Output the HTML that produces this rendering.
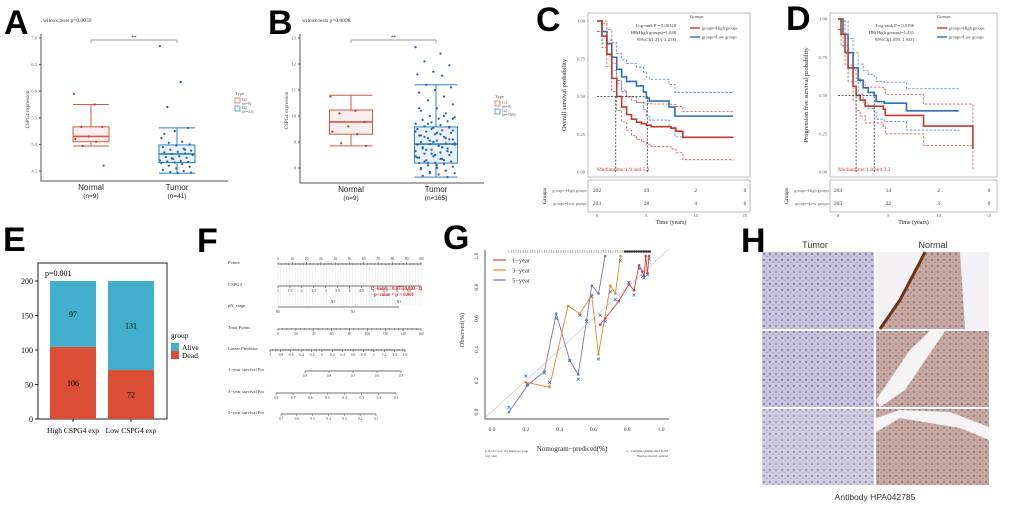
<!DOCTYPE html>
<html><head><meta charset="utf-8"><style>
html,body{margin:0;padding:0;background:#fff;}
svg{display:block;font-family:"Liberation Serif",serif;}
.ax{stroke:#555;stroke-width:1;fill:none;}
</style></head><body>
<svg id="fig" width="1020" height="505" viewBox="0 0 1020 505" xmlns="http://www.w3.org/2000/svg">
<defs>
<pattern id="tumorTex" width="6" height="6" patternUnits="userSpaceOnUse"><rect width="6" height="6" fill="#c9c5dc"/><circle cx="2" cy="2" r="1.2" fill="#8e87b8"/><circle cx="5" cy="4.5" r="0.9" fill="#a49fc6"/></pattern>
<pattern id="normTex" width="6" height="6" patternUnits="userSpaceOnUse"><rect width="6" height="6" fill="#c7aba3"/><circle cx="2" cy="2" r="1.2" fill="#9a7a8e"/><circle cx="5" cy="4.5" r="0.9" fill="#b48a78"/></pattern>
</defs>
<g font-family="Liberation Sans,sans-serif" font-weight="bold" font-size="34" fill="#000">
<text x="4" y="34">A</text><text x="268" y="34">B</text><text x="536" y="31">C</text><text x="786" y="30">D</text>
<text x="3" y="251">E</text><text x="197" y="252">F</text><text x="443" y="249">G</text><text x="741" y="252">H</text>
</g>
<g id="gA"></g>
<g id="gB"></g>
<g id="gC"></g>
<g id="gD"></g>
<g id="gE"></g>
<g id="gF"></g>
<g id="gG"></g>
<g id="gH">
<text x="815" y="248" font-family="Liberation Sans,sans-serif" font-size="9" text-anchor="middle" fill="#333">Tumor</text>
<text x="933" y="248" font-family="Liberation Sans,sans-serif" font-size="9" text-anchor="middle" fill="#333">Normal</text>
<rect x="762" y="252" width="112" height="77" fill="url(#tumorTex)"/>
<rect x="762" y="331" width="112" height="76" fill="url(#tumorTex)"/>
<rect x="762" y="409" width="112" height="76" fill="url(#tumorTex)" opacity="0.85"/>
<rect x="876" y="252" width="113" height="77" fill="#f3f1f6"/>
<path d="M880 329 L900 300 L920 262 L925 252 L960 252 L965 329 Z" fill="url(#normTex)"/>
<path d="M880 329 L900 300 L920 262 L925 252" stroke="#6b3416" stroke-width="3" fill="none"/>
<rect x="876" y="331" width="113" height="76" fill="url(#normTex)"/>
<path d="M876 400 L910 350 L930 331 L945 331 L905 390 L880 407 Z" fill="#f5f3f3"/>
<rect x="876" y="409" width="113" height="76" fill="url(#normTex)"/>
<path d="M876 432 L900 418 L960 428 L989 440 L989 427 L950 412 L900 410 L876 418 Z" fill="#f5f3f3"/>
<text x="875" y="500" font-family="Liberation Sans,sans-serif" font-size="8.5" text-anchor="middle" fill="#333">Antibody HPA042785</text>
</g>
</svg>
<script>
const NS="http://www.w3.org/2000/svg";
function mk(parent,tag,attrs,txt){const e=document.createElementNS(NS,tag);for(const k in attrs)e.setAttribute(k,attrs[k]);if(txt!==undefined)e.textContent=txt;parent.appendChild(e);return e;}
function lin(d0,d1,r0,r1){return v=>r0+(v-d0)*(r1-r0)/(d1-d0);}

// ---------- Panel A/B data ----------
const aGroups=["Normal\n(n=9)","Tumor\n(n=41)"];
const aStats=[[4.97,5.05,5.15,5.33,5.75],[4.46,4.66,4.82,4.99,5.31]];
const aPointsNormal=[5.95,5.75,5.33,5.33,5.15,5.1,5.05,4.97,4.6];
const aPointsTumor=[6.85,6.17,5.7,5.31,5.25,5.12,5.05,5.03,5.0,4.98,4.95,4.92,4.9,4.88,4.86,4.85,4.83,4.82,4.8,4.78,4.76,4.75,4.72,4.7,4.69,4.68,4.67,4.66,4.65,4.63,4.6,4.58,4.55,4.52,4.5,4.48,4.47,4.46,5.2,4.9,4.74];
const aTicks=[4.5,5.0,5.5,6.0,6.5,7.0];
const bGroups=["Normal\n(n=9)","Tumor\n(n=165)"];
const bStats=[[8.85,9.3,9.77,10.23,10.8],[7.65,8.19,8.92,9.58,11.2]];
const bPointsNormal=[10.75,10.2,10.1,9.77,9.6,9.4,9.3,8.95,8.85];
const bTicks=[8,9,10,11,12,13];
const bTumorPoints=[12.65,12.4,12.1,11.95,11.7,11.6,11.55,11.2,11.1,11.0,10.9,10.75,10.6,10.45,10.3,10.2,10.1,10.0,9.95,9.9,9.85,9.8,9.75,9.7,9.65,9.6,9.58,9.55,9.5,9.45,9.4,9.35,9.3,9.25,9.2,9.15,9.1,9.05,9.0,8.95,8.92,8.9,8.85,8.8,8.75,8.7,8.65,8.6,8.55,8.5,8.45,8.4,8.35,8.3,8.25,8.2,8.19,8.15,8.1,8.05,8.0,7.95,7.9,7.85,7.8,7.75,7.7,7.65,
9.5,9.4,9.3,9.2,9.1,9.0,8.9,8.8,8.7,8.6,8.5,8.4,8.3,8.2,9.45,9.35,9.25,9.15,9.05,8.95,8.85,8.75,8.65,8.55,8.45,8.35,8.25,9.55,9.0,8.9,8.8,8.7,8.6,8.5,10.3,10.0,9.7,9.9,8.1,8.0,7.9,7.8];
function boxPanel(g,cfg){
  const y=lin(cfg.ymin,cfg.ymax,cfg.y0,cfg.y1);
  mk(g,"text",{x:cfg.ax+2,y:22,"font-size":5.5,fill:"#333"},cfg.title);
  mk(g,"path",{d:`M${cfg.ax} ${cfg.y1-4} V${cfg.base} H${cfg.axEnd}`,class:"ax"});
  cfg.ticks.forEach(t=>{const ty=y(t);mk(g,"line",{x1:cfg.ax-2,x2:cfg.ax,y1:ty,y2:ty,stroke:"#555"});
    const tl=mk(g,"text",{x:cfg.ax-4,y:ty+1.5,"font-size":4.5,"text-anchor":"end",fill:"#555"},t.toFixed(cfg.dec));
    
    });
  mk(g,"text",{transform:`translate(${cfg.ax-12},${(cfg.y1+cfg.base)/2}) rotate(-90)`,"font-size":5,"text-anchor":"middle",fill:"#333"},"CSPG4 expression");
  const cols=["#d05a4a","#2f7fc1"],fills=["#fbeeec","#eaf3fb"];
  cfg.stats.forEach((s,i)=>{
    const cx=cfg.cx[i],w=cfg.bw,c=cols[i];
    const bx=mk(g,"g",{});
    
    
    mk(bx,"line",{x1:cx,x2:cx,y1:y(s[0]),y2:y(s[4]),stroke:c,"stroke-width":1});
    mk(bx,"line",{x1:cx-w/2,x2:cx+w/2,y1:y(s[0]),y2:y(s[0]),stroke:c});
    mk(bx,"line",{x1:cx-w/2,x2:cx+w/2,y1:y(s[4]),y2:y(s[4]),stroke:c});
    mk(bx,"rect",{x:cx-w/2,y:y(s[3]),width:w,height:y(s[1])-y(s[3]),fill:fills[i],stroke:c,"stroke-width":1});
    mk(bx,"line",{x1:cx-w/2,x2:cx+w/2,y1:y(s[2]),y2:y(s[2]),stroke:c,"stroke-width":1.6});
    const pts=cfg.pts[i];
    pts.forEach((v,k)=>{const jx=cx+(((k*37)%23)/23-0.5)*w*0.95;
      const p=mk(bx,"circle",{cx:jx,cy:y(v),r:1.1,fill:i?"#1f5fa8":"#c0392b"});
      
      });
    const lines=cfg.groups[i].split("\n");
    mk(g,"text",{x:cx,y:cfg.base+9,"font-size":8,"text-anchor":"middle","font-family":"Liberation Sans,sans-serif",fill:"#222"},lines[0]);
    mk(g,"text",{x:cx,y:cfg.base+17,"font-size":6.5,"text-anchor":"middle","font-family":"Liberation Sans,sans-serif",fill:"#222"},lines[1]);
  });
  const bt=y(cfg.ymax)+2;
  mk(g,"path",{d:`M${cfg.cx[0]} ${bt+3} V${bt} H${cfg.cx[1]} V${bt+3}`,stroke:"#777",fill:"none","stroke-width":0.7});
  mk(g,"text",{x:(cfg.cx[0]+cfg.cx[1])/2,y:bt-1,"font-size":5,"text-anchor":"middle"},"**");
  const lg=mk(g,"g",{});
  
  
  mk(lg,"text",{x:cfg.lx,y:cfg.ly,"font-size":4.5,fill:"#555"},"Type");
  [0,1].forEach(i=>{mk(lg,"rect",{x:cfg.lx,y:cfg.ly+3+i*8,width:5,height:5,fill:"none",stroke:cols[i],"stroke-width":0.7});
    mk(lg,"text",{x:cfg.lx+7,y:cfg.ly+6+i*8,"font-size":4.2,fill:"#555"},i?"G2":"G1");
    mk(lg,"text",{x:cfg.lx+7,y:cfg.ly+10+i*8,"font-size":4.2,fill:"#555"},cfg.legn[i]);});
}
boxPanel(document.getElementById("gA"),{title:"wilcox.tests p=0.0059",ax:41,axEnd:228,y0:171,y1:38,ymin:4.5,ymax:7.0,base:181,ticks:aTicks,dec:1,stats:aStats,pts:[aPointsNormal,aPointsTumor],cx:[91,177],bw:36,groups:aGroups,lx:235,ly:95,legn:["(n=9)","(n=41)"]});
boxPanel(document.getElementById("gB"),{title:"wilcox.tests p=0.0098",ax:300,axEnd:484,y0:168,y1:38,ymin:8,ymax:13,base:183,ticks:bTicks,dec:0,stats:bStats,pts:[bPointsNormal,bTumorPoints],cx:[351,436],bw:43,groups:bGroups,lx:495,ly:98,legn:["(n=9)","(n=165)"]});

// ---------- KM data ----------
const cHighT=[0,0.5,1,1.5,2,2.5,3,3.5,4,4.5,5,5.5,7.5,8,8.7,13.8];
const cHighS=[1,0.9,0.78,0.62,0.5,0.43,0.38,0.35,0.33,0.32,0.31,0.30,0.29,0.27,0.23,0.23];
const cLowT=[0,0.5,1,1.5,2,2.5,3,4,4.7,5,5.3,7.3,7.9,13.8];
const cLowS=[1,0.93,0.85,0.76,0.68,0.63,0.6,0.57,0.53,0.49,0.47,0.43,0.37,0.37];
const dHighT=[0,0.3,0.7,1,1.5,1.8,2.2,2.7,4.5,4.7,8.5,13.4];
const dHighS=[1,0.9,0.78,0.68,0.56,0.5,0.47,0.43,0.41,0.37,0.3,0.15];
const dLowT=[0,0.5,1,1.5,2,2.5,3,3.6,3.8,4.6,6.8,12];
const dLowS=[1,0.9,0.78,0.68,0.6,0.55,0.52,0.5,0.46,0.45,0.40,0.40];
const kmTicksX=[0,5,10,15];
const kmTicksY=[0,0.25,0.5,0.75,1.0];
const cRisk=[[202,19,2,0],[203,28,4,0]];
const dRisk=[[203,14,2,0],[203,22,3,0]];

function steps(T,S,x,y,dy){let d=`M${x(T[0])} ${y(Math.min(1,S[0]+dy))}`;for(let i=1;i<T.length;i++){d+=` H${x(T[i])} V${y(Math.max(0,Math.min(1,S[i]+dy*(1+i*0.08))))}`;}return d;}
function km(g,c){
  const x=lin(0,15,c.x0,c.x15),y=lin(0,1,c.y0,c.y1);
  mk(g,"rect",{x:c.bx0,y:13,width:c.bx1-c.bx0,height:164,fill:"#fff",stroke:"#aaa","stroke-width":0.8});
  kmTicksY.forEach(t=>{mk(g,"text",{x:c.bx0-3,y:y(t)+1.5,"font-size":4.5,"text-anchor":"end",fill:"#555"},t.toFixed(2));});
  mk(g,"text",{transform:`translate(${c.bx0-22},95) rotate(-90)`,"font-size":6.5,"text-anchor":"middle",fill:"#222"},c.ylab);
  const series=[[c.lowT,c.lowS,"#2b6fb6"],[c.highT,c.highS,"#c0392b"]];
  series.forEach(([T,S,col])=>{
    mk(g,"path",{d:steps(T,S,x,y,0.08),stroke:col,fill:"none","stroke-width":0.8,"stroke-dasharray":"2.5,1.5",opacity:0.8});
    mk(g,"path",{d:steps(T,S,x,y,-0.07),stroke:col,fill:"none","stroke-width":0.8,"stroke-dasharray":"2.5,1.5",opacity:0.8});
    const p=mk(g,"path",{d:steps(T,S,x,y,0),stroke:col,fill:"none","stroke-width":1.6});
    
    
  });
  c.med.forEach(m=>mk(g,"path",{d:`M${x(m)} ${y(0)} V${y(0.5)}`,stroke:"#333","stroke-dasharray":"2,1.5","stroke-width":0.8}));
  mk(g,"path",{d:`M${x(0)} ${y(0.5)} H${x(Math.max(...c.med))}`,stroke:"#333","stroke-dasharray":"2,1.5","stroke-width":0.8});
  mk(g,"text",{x:x(0),y:y(0)-1,"font-size":5.5,fill:"#e03a3a"},c.medTxt);
  c.stat.forEach((s,i)=>mk(g,"text",{x:c.sx,y:27+i*7,"font-size":4.6,"text-anchor":"end",fill:"#333"},s));
  mk(g,"text",{x:c.lx,y:18,"font-size":4.6,fill:"#333"},"Groups");
  mk(g,"line",{x1:c.lx,x2:c.lx+10,y1:28,y2:28,stroke:"#c0392b","stroke-width":1.4});
  mk(g,"text",{x:c.lx+12,y:29.5,"font-size":4.3,fill:"#333"},"groups=High groups");
  mk(g,"line",{x1:c.lx,x2:c.lx+10,y1:37,y2:37,stroke:"#2b6fb6","stroke-width":1.4});
  mk(g,"text",{x:c.lx+12,y:38.5,"font-size":4.3,fill:"#333"},"groups=Low groups");
  mk(g,"rect",{x:c.bx0,y:180,width:c.bx1-c.bx0,height:32,fill:"#fff",stroke:"#aaa","stroke-width":0.8});
  ["groups=High groups","groups=Low groups"].forEach((n,r)=>{
    mk(g,"text",{x:c.bx0-1,y:192+r*13,"font-size":4.2,"text-anchor":"end",fill:"#666"},n);
    c.risk[r].forEach((v,k)=>mk(g,"text",{x:x(kmTicksX[k]),y:192+r*13,"font-size":5.5,"text-anchor":"middle",fill:"#333"},v));
  });
  mk(g,"text",{transform:`translate(${c.bx0-42},196) rotate(-90)`,"font-size":5.5,"text-anchor":"middle",fill:"#222"},"Groups");
  kmTicksX.forEach(t=>mk(g,"text",{x:x(t),y:217,"font-size":4.6,"text-anchor":"middle",fill:"#555"},t));
  mk(g,"text",{x:(c.x0+c.x15)/2,y:224,"font-size":6,"text-anchor":"middle",fill:"#222"},"Time (years)");
}
km(document.getElementById("gC"),{x0:597,x15:745,y0:172,y1:21,bx0:588,bx1:750,highT:cHighT,highS:cHighS,lowT:cLowT,lowS:cLowS,med:[1.9,5.1],medTxt:"Mediantime:1.9 and 5.1",stat:["Log-rank P = 0.00128","HR(High groups)=1.638","95%CI(1.213, 2.213)"],sx:676,lx:690,risk:cRisk,ylab:"Overall survival probability"});
km(document.getElementById("gD"),{x0:838,x15:989,y0:172,y1:19,bx0:830,bx1:997,highT:dHighT,highS:dHighS,lowT:dLowT,lowS:dLowS,med:[1.8,3.6],medTxt:"Mediantime:1.8 and 3.2",stat:["Log-rank P = 0.0196","HR(High groups)=1.431","95%CI(1.059, 1.933)"],sx:914,lx:937,risk:dRisk,ylab:"Progression free survival probability"});

// ---------- Panel E ----------
const eCats=["High CSPG4 exp","Low CSPG4 exp"];
const eDead=[106,72];
const eAlive=[97,131];
const eTicks=[0,50,100,150,200];
(function(){
  const g=document.getElementById("gE");const y=lin(0,200,419,281);const cx=[73,131],bw=46;
  mk(g,"rect",{x:38,y:263,width:129,height:156,fill:"none",stroke:"#222","stroke-width":1});
  eTicks.forEach(t=>{mk(g,"line",{x1:35,x2:38,y1:y(t),y2:y(t),stroke:"#222"});mk(g,"text",{x:33,y:y(t)+3,"font-size":8,"text-anchor":"end"},t);});
  mk(g,"text",{x:45,y:276,"font-size":8},"p=0.001");
  eCats.forEach((c,i)=>{
    const split=eDead[i]*200/(eDead[i]+eAlive[i]);
    const d=mk(g,"rect",{x:cx[i]-bw/2,y:y(split),width:bw,height:419-y(split),fill:"#dc4d35"});
    
    
    const a=mk(g,"rect",{x:cx[i]-bw/2,y:y(200),width:bw,height:y(split)-y(200),fill:"#42b0cc"});
    
    
    mk(g,"text",{x:cx[i],y:y(split/2)+3,"font-size":8,"text-anchor":"middle"},eDead[i]);
    mk(g,"text",{x:cx[i],y:y((200+split)/2)+3,"font-size":8,"text-anchor":"middle"},eAlive[i]);
    mk(g,"line",{x1:cx[i],x2:cx[i],y1:419,y2:422,stroke:"#222"});
    mk(g,"text",{x:cx[i],y:433,"font-size":7.5,"text-anchor":"middle"},c);
  });
  mk(g,"text",{x:171,y:338,"font-size":7.5},"group");
  mk(g,"rect",{x:171,y:343,width:8,height:8,fill:"#42b0cc"});mk(g,"text",{x:182,y:350,"font-size":7.5},"Alive");
  mk(g,"rect",{x:171,y:351,width:8,height:8,fill:"#dc4d35"});mk(g,"text",{x:182,y:358,"font-size":7.5},"Dead");
})();

// ---------- Panel F ----------
const fRows=["Points","CSPG4","pN_stage","Total Points","Linear Predictor","1−year survival Pro","3−year survival Pro","5−year survival Pro"];
const fPointsTicks=[0,10,20,30,40,50,60,70,80,90,100];
const fCspgTicks=["1","1.5","2","2.5","3","3.5","4","4.5","5","5.5","6","6.5","7"];
const fTotalTicks=[0,20,40,60,80,100,120,140,160];
const fLpTicks=["-1","-0.8","-0.6","-0.4","-0.2","0","0.2","0.4","0.6","0.8","1","1.2","1.4","1.6"];
const f1yTicks=["0.9","0.8","0.7","0.6","0.5"];
const f3yTicks=["0.8","0.7","0.6","0.5","0.4","0.3","0.2","0.1"];
const f5yTicks=["0.7","0.6","0.5","0.4","0.3","0.2","0.1"];
(function(){
  const g=document.getElementById("gF");
  const rowY=[264,286,307,329,350,371,393,414];
  fRows.forEach((r,i)=>mk(g,"text",{x:228,y:rowY[i],"font-size":4.6,fill:"#333"},r));
  for(let k=0;k<=50;k++){const xx=278+k*143/50;mk(g,"line",{x1:xx,x2:xx,y1:264,y2:306,stroke:"#ddd","stroke-width":0.4});}
  function scale(y,x0,x1,labels,above,minor){
    mk(g,"line",{x1:x0,x2:x1,y1:y,y2:y,stroke:"#444","stroke-width":0.7});
    const n=labels.length-1;
    labels.forEach((l,k)=>{const xx=x0+k*(x1-x0)/n;mk(g,"line",{x1:xx,x2:xx,y1:y-(above?2:0),y2:y+(above?0:2),stroke:"#444","stroke-width":0.5});
      mk(g,"text",{x:xx,y:above?y-4:y+6,"font-size":3.6,"text-anchor":"middle",fill:"#444"},l);});
    if(minor){for(let k=0;k<=n*4;k++){const xx=x0+k*(x1-x0)/(n*4);mk(g,"line",{x1:xx,x2:xx,y1:y-1,y2:y+1,stroke:"#444","stroke-width":0.4});}}
  }
  scale(264,278,421,fPointsTicks,true,true);
  scale(286,278,421,fCspgTicks,false,false);
  mk(g,"line",{x1:278,x2:399,y1:307,y2:307,stroke:"#444","stroke-width":0.7});
  mk(g,"text",{x:278,y:313,"font-size":3.6,"text-anchor":"middle",fill:"#444"},"N0");
  mk(g,"text",{x:333,y:303,"font-size":3.6,"text-anchor":"middle",fill:"#444"},"N1");
  mk(g,"text",{x:353,y:313,"font-size":3.6,"text-anchor":"middle",fill:"#444"},"N2");
  mk(g,"text",{x:399,y:303,"font-size":3.6,"text-anchor":"middle",fill:"#444"},"N3");
  scale(329,278,421,fTotalTicks,false,true);
  scale(350,270,405,fLpTicks,false,true);
  scale(371,305,401,f1yTicks,false,false);
  scale(393,276,396,f3yTicks,false,false);
  scale(414,281,376,f5yTicks,false,false);
  mk(g,"text",{x:422,y:290,"font-size":4.8,"text-anchor":"end",fill:"#e02020","font-weight":"bold"},"C−index : 0.675(0.603−1)");
  mk(g,"text",{x:414,y:296,"font-size":4.8,"text-anchor":"end",fill:"#e02020","font-weight":"bold"},"p−value = p < 0.001");
})();

// ---------- Panel G ----------
const g1X=[0.64,0.67,0.75,0.81,0.84,0.87,0.89,0.9,0.91,0.92,0.93];
const g1Y=[0.56,0.6,0.71,0.82,0.78,0.94,0.9,0.87,1.0,0.89,1.0];
const g3X=[0.2,0.34,0.45,0.52,0.59,0.63,0.7,0.73,0.76];
const g3Y=[0.19,0.16,0.68,0.63,0.75,0.37,0.81,0.76,1.0];
const g5X=[0.1,0.21,0.31,0.38,0.46,0.51,0.56,0.59,0.63,0.67];
const g5Y=[0.0,0.17,0.26,0.63,0.33,0.24,0.59,0.81,0.76,1.0];
const gXmarkX=[0.1,0.2,0.21,0.31,0.34,0.38,0.46,0.51,0.52,0.56,0.59,0.63,0.64,0.67,0.7,0.73,0.76,0.81,0.84,0.87,0.89,0.9,0.92,0.93];
const gXmarkY=[0.03,0.23,0.18,0.25,0.19,0.6,0.33,0.21,0.62,0.58,0.74,0.34,0.62,0.58,0.77,0.72,0.97,0.83,0.75,0.92,0.87,0.86,0.88,0.98];
const gTicks=[0,0.2,0.4,0.6,0.8,1.0];
(function(){
  const g=document.getElementById("gG");const x=lin(0,1,492,661),y=lin(0,1,412,256);
  mk(g,"path",{d:`M485 250 V419 H669`,class:"ax"});
  mk(g,"line",{x1:485,y1:418,x2:669,y2:249,stroke:"#ccc","stroke-width":0.7});
  gTicks.forEach(t=>{mk(g,"text",{x:x(t),y:431,"font-size":5.5,"text-anchor":"middle",fill:"#333"},t.toFixed(1));
    mk(g,"text",{transform:`translate(478,${y(t)}) rotate(-90)`,"font-size":5.5,"text-anchor":"middle",fill:"#333"},t.toFixed(1));});
  mk(g,"text",{transform:`translate(464,330) rotate(-90)`,"font-size":6.5,"text-anchor":"middle",fill:"#333"},"Observed(%)");
  mk(g,"text",{x:572,y:451,"font-size":7,"text-anchor":"middle",fill:"#222"},"Nomogram−prediced(%)");
  mk(g,"text",{x:485,y:452,"font-size":2.6,fill:"#333"},"n=181 d=72 p=4, 18.1 subjects per group");
  mk(g,"text",{x:485,y:457,"font-size":2.6,fill:"#333"},"Gray: ideal");
  mk(g,"text",{x:668,y:452,"font-size":2.6,"text-anchor":"end",fill:"#333"},"X − resampling optimism added, B=200");
  mk(g,"text",{x:668,y:457,"font-size":2.6,"text-anchor":"end",fill:"#333"},"Based on observed−predicted");
  for(let k=0;k<60;k++){const xx=x(0.1+k*0.014);mk(g,"line",{x1:xx,x2:xx,y1:250,y2:253,stroke:"#555","stroke-width":0.4});}
  mk(g,"line",{x1:x(0.78),x2:x(0.94),y1:251.5,y2:251.5,stroke:"#333","stroke-width":2});
  const ser=[[g5X,g5Y,"#7b74b8","5−year"],[g3X,g3Y,"#e8892f","3−year"],[g1X,g1Y,"#d0443e","1−year"]];
  ser.forEach(([X,Y,col,nm])=>{
    const p=mk(g,"polyline",{points:X.map((v,i)=>x(v)+","+y(Y[i])).join(" "),fill:"none",stroke:col,"stroke-width":0.9});
    
    
    X.forEach((v,i)=>mk(g,"circle",{cx:x(v),cy:y(Y[i]),r:1.3,fill:col}));
  });
  gXmarkX.forEach((v,i)=>{const cx=x(v),cy=y(gXmarkY[i]);mk(g,"path",{d:`M${cx-1.5} ${cy-1.5} L${cx+1.5} ${cy+1.5} M${cx+1.5} ${cy-1.5} L${cx-1.5} ${cy+1.5}`,stroke:"#2e6fc0","stroke-width":0.7});});
  [["1−year","#d0443e"],["3−year","#e8892f"],["5−year","#7b74b8"]].forEach(([n,c],i)=>{
    mk(g,"line",{x1:493,x2:506,y1:260+i*10,y2:260+i*10,stroke:c,"stroke-width":1.2});
    mk(g,"text",{x:512,y:262.5+i*10,"font-size":6.5,fill:"#333"},n);});
})();
</script>
</body></html>
